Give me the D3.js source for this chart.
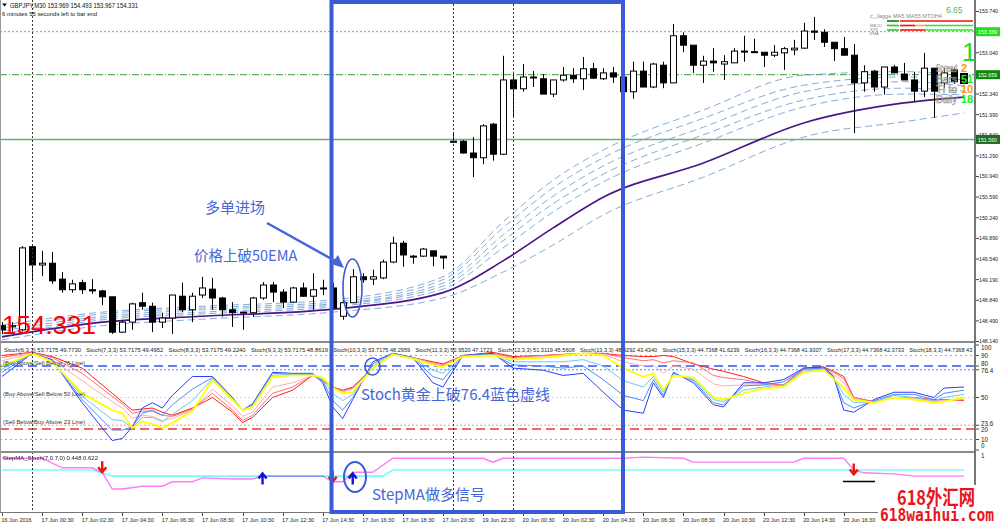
<!DOCTYPE html>
<html><head><meta charset="utf-8">
<script src="https://cdn.jsdelivr.net/npm/d3@7"></script>
<style>body{margin:0;background:#fff;}svg{display:block;font-family:"Liberation Sans",Arial,sans-serif;}</style>
</head><body><svg id="c" width="1000" height="525"></svg>
<script>
// ---------- DATA ----------
const openP  = [148.40,148.38,148.33,149.74,149.43,149.46,149.19,149.01,149.13,149.01,148.99,148.89,148.29,148.46,148.79,148.73,148.46,148.53,148.90,148.67,148.92,149.02,148.87,148.67,148.62,148.62,148.87,149.09,148.97,148.80,149.04,148.90,149.03,149.04,148.56,148.79,149.23,149.19,149.21,149.48,149.80,149.58,149.58,149.67,149.58,151.53,151.53,151.33,151.25,151.82,151.31,152.57,152.42,152.62,152.59,152.33,152.57,152.65,152.59,152.76,152.59,152.69,152.62,152.37,152.72,152.45,152.82,152.52,153.32,153.16,152.82,152.89,152.84,152.86,153.06,153.05,153.04,152.99,153.03,153.08,153.11,153.40,153.38,153.21,153.10,152.99,152.52,152.72,152.45,152.79,152.67,152.57,152.38,152.77,152.52,152.74,152.57];
const highP  = [148.46,148.46,149.75,149.75,149.67,149.65,149.31,149.18,149.18,149.19,149.01,148.89,148.50,148.79,148.96,148.79,148.62,148.92,149.13,148.96,149.23,149.21,148.89,148.80,148.63,148.89,149.14,149.14,149.02,149.06,149.13,149.29,149.18,149.13,148.87,149.36,149.29,149.35,149.52,149.91,149.84,149.60,149.72,149.67,149.58,151.69,151.55,151.60,151.82,151.84,152.98,152.71,152.84,152.72,152.67,152.57,152.79,152.77,152.96,152.86,152.77,152.79,152.65,152.88,152.88,152.86,152.88,153.52,153.38,153.16,152.98,153.11,152.99,153.11,153.32,153.27,153.04,153.16,153.13,153.25,153.54,153.64,153.43,153.21,153.30,153.18,152.82,152.74,152.79,152.82,152.86,152.71,153.03,152.77,152.77,152.77,152.69];
const lowP   = [148.26,148.30,148.30,149.14,149.24,149.11,148.96,148.96,148.94,148.94,148.75,148.26,148.28,148.33,148.67,148.29,148.36,148.26,148.63,148.46,148.87,148.67,148.55,148.38,148.33,148.55,148.84,148.80,148.70,148.79,148.89,148.67,148.92,148.67,148.50,148.79,149.13,149.09,149.19,149.46,149.40,149.45,149.57,149.41,149.36,151.50,151.32,150.92,151.14,151.20,151.30,151.94,152.37,152.45,152.33,152.28,152.54,152.52,152.40,152.59,152.57,152.52,152.35,152.25,152.45,152.43,152.43,152.52,153.04,152.69,152.52,152.71,152.57,152.86,152.88,153.03,152.79,152.96,152.74,152.99,153.10,153.25,153.13,152.89,152.99,151.67,152.37,152.37,152.32,152.69,152.57,152.20,152.28,151.93,152.43,152.50,152.52];
const closeP = [148.33,148.40,149.72,149.43,149.46,149.16,149.01,149.11,149.01,148.99,148.89,148.29,148.46,148.77,148.73,148.46,148.53,148.92,148.67,148.90,149.04,148.87,148.67,148.62,148.63,148.87,149.09,148.97,148.80,149.04,148.90,149.01,149.04,148.70,148.79,149.23,149.18,149.23,149.48,149.80,149.60,149.57,149.70,149.58,149.55,151.52,151.33,151.25,151.79,151.31,152.57,152.42,152.62,152.61,152.33,152.57,152.65,152.59,152.76,152.60,152.69,152.62,152.37,152.72,152.45,152.84,152.52,153.32,153.16,152.82,152.89,152.86,152.88,153.06,153.05,153.04,152.99,153.04,153.10,153.11,153.40,153.38,153.21,153.10,152.99,152.52,152.71,152.45,152.79,152.69,152.57,152.38,152.77,152.38,152.69,152.54,152.66];

const maIdx = [0,10,20,33,44,50,55,60,70,80,90,96];
const ema50 = [148.21,148.46,148.56,148.68,148.96,149.50,150.06,150.58,151.16,151.84,152.18,152.28];
const ma1 = [148.41,148.63,148.73,148.84,149.23,150.16,150.87,151.38,152.06,152.65,152.71,152.65];
const ma2 = [148.36,148.60,148.70,148.80,149.18,150.06,150.74,151.25,151.92,152.48,152.62,152.57];
const ma3 = [148.31,148.56,148.67,148.77,149.12,149.94,150.60,151.11,151.77,152.37,152.54,152.47];
const ma4 = [148.26,148.53,148.63,148.75,149.07,149.84,150.47,150.97,151.64,152.23,152.43,152.38];
const ma5 = [148.22,148.50,148.60,148.72,149.02,149.72,150.33,150.84,151.50,152.11,152.33,152.32];
const ma6 = [148.16,148.40,148.51,148.63,148.87,149.31,149.77,150.28,150.92,151.60,151.86,152.01];

const priceTicks = [148.14,148.49,148.84,149.19,149.54,149.89,150.24,150.59,150.94,151.29,151.64,151.99,152.34,153.04,153.74];
const priceLevels = [153.389,152.659,151.560];
const separatorBars = [3,45,51];

const stochIdx = [0,3,5,8,11,12,13,14,15,16,17,19,21,23,24,25,27,29,31,32,33,34,35,37,39,41,43,44,46,49,51,54,56,58,60,62,64,65,66,67,69,71,72,74,76,78,80,82,83,84,85,87,89,91,93,94,96];
const stoch6  = [70,92,86,45,9,11,22,40,45,40,52,70,70,50,38,44,74,73,73,64,41,30,48,84,92,88,64,60,90,92,78,76,71,73,55,38,35,64,50,74,64,43,41,64,64,67,78,79,70,38,36,48,55,55,50,59,60];
const stoch8  = [74,92,85,48,19,19,22,35,38,33,43,58,69,49,38,43,73,72,72,66,47,38,50,82,92,88,70,67,90,91,81,80,78,80,67,52,47,67,52,73,66,45,43,61,62,65,77,78,69,45,40,47,53,53,48,54,57];
const stoch10 = [77,92,85,51,29,28,21,31,31,27,34,47,68,49,38,42,71,72,72,67,54,47,53,80,91,87,76,73,89,91,84,84,84,86,80,66,60,70,55,72,67,48,46,57,60,62,75,77,69,53,45,46,52,50,47,50,53];
const stoch12 = [80,92,84,54,38,35,21,27,25,21,26,37,67,48,38,41,70,71,71,69,59,54,55,78,91,87,81,79,89,90,86,88,90,92,90,78,70,73,57,71,69,50,48,54,59,60,74,76,68,59,48,45,50,48,45,46,50];
const stoch15 = [85,92,86,66,46,40,30,33,32,28,30,38,58,42,32,36,60,64,71,67,60,55,58,78,92,88,82,80,90,91,87,89,90,92,91,84,80,81,73,80,77,63,61,62,62,61,76,78,72,64,49,45,50,49,46,47,48];
const stoch16 = [88,93,88,73,51,44,35,37,37,33,32,39,54,38,28,33,54,60,71,67,60,56,59,78,92,88,83,81,90,92,88,90,91,92,92,88,85,86,83,85,83,71,69,67,63,62,77,78,74,68,50,46,50,50,47,48,48];
const stoch18 = [90,93,89,78,54,46,38,39,40,36,33,40,50,36,26,31,50,57,71,66,60,57,60,78,92,88,84,82,90,93,89,90,91,92,92,90,89,89,90,89,82,77,75,70,64,62,78,79,75,70,50,46,50,50,48,48,47];
const stochLevels = [90,80,76.4,50,23.6,20,10];
const stochLabels = ["Stoch(6,3,3) 53.7175 49.7730","Stoch(7,3,3) 53.7175 49.4952","Stoch(8,3,3) 53.7175 49.2240","Stoch(9,3,3) 53.7175 48.8619","Stoch(10,3,3) 53.7175 48.2959","Stoch(11,3,3) 52.9520 47.1723","Stoch(12,3,3) 51.3119 45.5608","Stoch(13,3,3) 48.9292 43.4340","Stoch(15,3,3) 44.7368 41.6239","Stoch(16,3,3) 44.7368 41.9307","Stoch(17,3,3) 44.7368 42.3733","Stoch(18,3,3) 44.7368 43"];
const stochAxis = [100,90,80,76.4,50,23.6,20,10,0];

const stepPinkIdx = [0,4,6,9,10,11,12,14,16,17,19,20,23,25,26,32,33,34,35,37,39,48,49,50,62,64,68,69,79,80,84,85,86,89,91,96];
const stepPink    = [.96,.96,.79,.79,.71,.41,.41,.46,.46,.54,.54,.61,.59,.59,.64,.64,.54,.54,.71,.71,.96,.96,.89,.96,.96,.98,.96,.89,.89,.96,.96,.75,.70,.68,.64,.64];
const stepCyanIdx = [0,9,11,38,39,96];
const stepCyan    = [.75,.75,.64,.64,.75,.75];
const downArrowIdx = [10,33,85];
const downArrowVal = [.80,.63,.76];
const upArrowIdx = [26,35];
const upArrowVal = [.60,.60];

const tickBars = [0,4,8,12,16,20,24,28,32,36,40,44,48,52,56,60,64,68,72,76,80,84];
const tickLabels = ["16 Jun 2016","17 Jun 00:30","17 Jun 02:30","17 Jun 04:30","17 Jun 06:30","17 Jun 08:30","17 Jun 10:30","17 Jun 12:30","17 Jun 14:30","17 Jun 16:30","17 Jun 18:30","17 Jun 20:30","19 Jun 22:30","20 Jun 00:30","20 Jun 02:30","20 Jun 04:30","20 Jun 06:30","20 Jun 08:30","20 Jun 10:30","20 Jun 12:30","20 Jun 14:30","20 Jun 16:30"];

// ---------- SCALES ----------
const svg = d3.select("#c");
const x  = d3.scaleLinear().domain([0,96]).range([2,964]);
const yP = d3.scaleLinear().domain([148.14,153.74]).range([341,11]);
const yS = d3.scaleLinear().domain([0,100]).range([450,345]);
const yM = d3.scaleLinear().domain([0,1]).range([512,456]);
const AX = 975;
const blue = "#3b5bd6", annot = "#4766d8";

svg.append("rect").attr("width",1000).attr("height",525).attr("fill","#fff");
const defs = svg.append("defs");
defs.append("clipPath").attr("id","cm").append("rect").attr("x",0).attr("y",0).attr("width",AX).attr("height",341);
defs.append("clipPath").attr("id","cs").append("rect").attr("x",0).attr("y",343).attr("width",AX).attr("height",108);
defs.append("clipPath").attr("id","cp").append("rect").attr("x",0).attr("y",453).attr("width",AX).attr("height",59);

// ---------- MAIN PANEL ----------
const gm = svg.append("g").attr("clip-path","url(#cm)");
const lvlStyle = [{c:"#33dd33",d:"2,2",w:1},{c:"#3a9a3a",d:"7,2,1,2",w:1},{c:"#74ad74",d:null,w:1.6}];
priceLevels.forEach((p,k)=>{
  gm.append("line").attr("x1",0).attr("x2",AX).attr("y1",yP(p)).attr("y2",yP(p))
    .attr("stroke",lvlStyle[k].c).attr("stroke-width",lvlStyle[k].w).attr("stroke-dasharray",lvlStyle[k].d);
});
const lineP = d3.line().x((d,i)=>x(maIdx[i])).y(d=>yP(d)).curve(d3.curveMonotoneX);
[ma1,ma2,ma3,ma4,ma5,ma6].forEach(arr=>{
  gm.append("path").attr("d",lineP(arr)).attr("fill","none").attr("stroke","#86acd8").attr("stroke-width",1).attr("stroke-dasharray","7,4");
});
gm.append("path").attr("d",lineP(ema50)).attr("fill","none").attr("stroke","#4a168a").attr("stroke-width",1.7);
const idx = d3.range(openP.length);
gm.selectAll(".wick").data(idx).join("line")
  .attr("x1",i=>Math.round(x(i))+0.5).attr("x2",i=>Math.round(x(i))+0.5)
  .attr("y1",i=>yP(highP[i])).attr("y2",i=>yP(lowP[i])).attr("stroke","#000").attr("stroke-width",1);
gm.selectAll(".body").data(idx).join("rect")
  .attr("x",i=>Math.round(x(i))-2.5).attr("width",6)
  .attr("y",i=>yP(Math.max(openP[i],closeP[i])))
  .attr("height",i=>Math.max(1,Math.abs(yP(openP[i])-yP(closeP[i]))))
  .attr("fill",i=>closeP[i]>=openP[i]?"#fff":"#000").attr("stroke","#000").attr("stroke-width",1);

// ---------- STOCH PANEL ----------
const gs = svg.append("g").attr("clip-path","url(#cs)");
const lvlS = {90:["#aaaaaa","2,3",1],80:["#3355ee","9,5",1.3],76.4:["#3399ff","2,2",1],50:["#eeee33","2,2",1.2],23.6:["#ff9977","2,2",1],20:["#ee3333","9,5",1.3],10:["#aaaaaa","2,3",1]};
stochLevels.forEach(v=>{
  const s = lvlS[v];
  gs.append("line").attr("x1",0).attr("x2",AX).attr("y1",yS(v)).attr("y2",yS(v))
    .attr("stroke",s[0]).attr("stroke-dasharray",s[1]).attr("stroke-width",s[2]);
});
const lineS = d3.line().x((d,i)=>x(stochIdx[i])).y(d=>yS(d));
const stochSeries = [[stoch18,"#ff1f1f",1],[stoch16,"#ff7070",1],[stoch15,"#ffb0b0",1],[stoch6,"#2f3cff",1],[stoch8,"#4a8dff",1],[stoch10,"#6cc8f4",1],[stoch12,"#ffff00",1.8]];
stochSeries.forEach(s=>{
  gs.append("path").attr("d",lineS(s[0])).attr("fill","none").attr("stroke",s[1]).attr("stroke-width",s[2]);
});
gs.selectAll(".sl").data(stochLabels).join("text")
  .attr("x",(d,k)=>4+k*82.3).attr("y",352).attr("font-size",6).attr("fill","#222")
  .attr("textLength",(d,k)=>k===11?63:77).attr("lengthAdjust","spacingAndGlyphs").text(d=>d);
[["(Buy Above/Sell Below 76 Line)",365],["(Buy Above/Sell Below 50 Line)",396],["(Sell Below/Buy Above 23 Line)",424]].forEach(t=>{
  gs.append("text").attr("x",3).attr("y",t[1]).attr("font-size",5.8).attr("fill","#333")
    .attr("textLength",82).attr("lengthAdjust","spacingAndGlyphs").text(t[0]);
});

// ---------- STEPMA PANEL ----------
const gp = svg.append("g").attr("clip-path","url(#cp)");
gp.append("path").attr("d",d3.line().x((d,i)=>x(stepCyanIdx[i])).y(d=>yM(d))(stepCyan))
  .attr("fill","none").attr("stroke","#7ff8f8").attr("stroke-width",1.6);
gp.append("path").attr("d",d3.line().x((d,i)=>x(stepPinkIdx[i])).y(d=>yM(d))(stepPink))
  .attr("fill","none").attr("stroke","#ff7cf4").attr("stroke-width",1.4).style("mix-blend-mode","multiply");
gp.append("text").attr("x",3).attr("y",460).attr("font-size",6).attr("fill","#222")
  .attr("textLength",95).attr("lengthAdjust","spacingAndGlyphs").text("StepMA_Stoch(7,0.7,0) 0.448 0.622");
downArrowIdx.forEach((b,k)=>{
  gp.append("path").attr("transform",`translate(${x(b)},${yM(downArrowVal[k])})`)
    .attr("d","M0,-6L0,4M-4,0L0,5L4,0").attr("fill","none").attr("stroke","#ee1111").attr("stroke-width",2.4);
});
upArrowIdx.forEach((b,k)=>{
  gp.append("path").attr("transform",`translate(${x(b)},${yM(upArrowVal[k])})`)
    .attr("d","M0,6L0,-4M-4,0L0,-5L4,0").attr("fill","none").attr("stroke","#1111dd").attr("stroke-width",2.4);
});
gp.append("line").attr("x1",843).attr("x2",875).attr("y1",481.5).attr("y2",481.5).attr("stroke","#000").attr("stroke-width",1.5);

// ---------- SEPARATORS / FRAME ----------
separatorBars.forEach(b=>{
  svg.append("line").attr("x1",Math.round(x(b))+0.5).attr("x2",Math.round(x(b))+0.5).attr("y1",0).attr("y2",512)
    .attr("stroke","#333").attr("stroke-dasharray","2,2").attr("stroke-width",1);
});
svg.append("rect").attr("x",0).attr("y",341).attr("width",AX).attr("height",2).attr("fill","#8a8a8a");
svg.append("rect").attr("x",0).attr("y",451).attr("width",AX).attr("height",2).attr("fill","#8a8a8a");
svg.append("line").attr("x1",0).attr("x2",AX).attr("y1",512.5).attr("y2",512.5).attr("stroke","#777");
svg.append("line").attr("x1",0.5).attr("x2",0.5).attr("y1",0).attr("y2",512).attr("stroke","#999");
svg.append("rect").attr("x",AX-1).attr("y",0).attr("width",2).attr("height",513).attr("fill","#777");

// ---------- AXES ----------
const axP = svg.append("g").attr("transform",`translate(${AX+1},0)`)
  .call(d3.axisRight(yP).tickValues(priceTicks).tickFormat(d3.format(".3f")).tickSize(3).tickPadding(0));
axP.select(".domain").remove();
axP.selectAll("text").attr("font-size",6.2).attr("fill","#222").attr("font-family","Liberation Sans, Arial")
  .attr("x",3).attr("textLength",19).attr("lengthAdjust","spacingAndGlyphs");
axP.selectAll("line").attr("stroke","#444");
const boxStyle = [["#20e020","#fff"],["#0a8a0a","#fff"],["#226b22","#fff"]];
priceLevels.forEach((p,k)=>{
  svg.append("rect").attr("x",AX+1).attr("y",yP(p)-4.5).attr("width",24).attr("height",9).attr("fill",boxStyle[k][0]);
  svg.append("text").attr("x",AX+3).attr("y",yP(p)+2.3).attr("font-size",6.2).attr("fill",boxStyle[k][1])
    .attr("textLength",19).attr("lengthAdjust","spacingAndGlyphs").text(d3.format(".3f")(p));
});
const sPos = v=> v===100?348 : v===0?446 : v===80?364 : v===76.4?371 : v===23.6?424 : v===20?430 : yS(v);
stochAxis.forEach(v=>{
  svg.append("line").attr("x1",AX+1).attr("x2",AX+4).attr("y1",yS(v)).attr("y2",yS(v)).attr("stroke","#444");
  svg.append("text").attr("x",AX+6).attr("y",sPos(v)+2.3).attr("font-size",6.3).attr("fill","#222").text(v);
});
svg.append("text").attr("x",AX+6).attr("y",yM(1)+2.3).attr("font-size",6.3).attr("fill","#222").text("1");
tickBars.forEach((b,k)=>{
  svg.append("line").attr("x1",Math.round(x(b))+0.5).attr("x2",Math.round(x(b))+0.5).attr("y1",513).attr("y2",516).attr("stroke","#444");
  svg.append("text").attr("x",x(b)-0.5).attr("y",521.5).attr("font-size",6.2).attr("fill","#222")
    .attr("textLength",k===0?30:32).attr("lengthAdjust","spacingAndGlyphs").text(tickLabels[k]);
});

// ---------- HEADER / INFO TEXT ----------
svg.append("path").attr("d","M2,3.5L7,3.5L4.5,6.5Z").attr("fill","#000");
svg.append("text").attr("x",10).attr("y",7.5).attr("font-size",6.4).attr("fill","#111")
  .attr("textLength",128).attr("lengthAdjust","spacingAndGlyphs").text("GBPJPY,M30  153.969 154.493 153.967 154.331");
svg.append("text").attr("x",2).attr("y",15.5).attr("font-size",6.2).attr("fill","#111")
  .attr("textLength",95).attr("lengthAdjust","spacingAndGlyphs").text("6 minutes 55 seconds left to bar end");
svg.append("text").attr("x",2).attr("y",334).attr("font-size",26).attr("fill","#ff0000").text("154.331");

const miniRows = [[21,[["#117711",887,899],["#ee1111",900,973]]],[25.5,[["#22cc22",887,899],["#ee1111",900,915],["#ffaa22",915,925],["#22ee22",925,973]]],[30,[["#22cc22",887,899],["#ee1111",900,925],["#22ee22",925,973]]]];
miniRows.forEach(r=>r[1].forEach(s=>{
  svg.append("line").attr("x1",s[1]).attr("x2",s[2]).attr("y1",r[0]).attr("y2",r[0]).attr("stroke",s[0]).attr("stroke-width",1.6);
}));
svg.append("text").attr("x",870).attr("y",18).attr("font-size",4.5).attr("fill","#888").attr("textLength",72).attr("lengthAdjust","spacingAndGlyphs").text("c_Jagge   MA5    MA55 MTOH4");
[["MACD",26.5],["STR",31],["EMA",35]].forEach(t=>svg.append("text").attr("x",870).attr("y",t[1]).attr("font-size",4).attr("fill","#888").text(t[0]));
svg.append("text").attr("x",946).attr("y",13).attr("font-size",8.5).attr("fill","#55bb55").text("6.65");
svg.append("text").attr("x",962).attr("y",61).attr("font-size",26).attr("fill","#22dd22").text("1");
[["Spread",72,"2","#ff9900",null],["Bars",83,"51","#22ee22","#000"],["TI to",93,"10","#ff9900",null],["Daily",103,"18","#22ee22",null]].forEach(t=>{
  svg.append("text").attr("x",936).attr("y",t[1]).attr("font-size",10).attr("fill","none").attr("stroke","#999").attr("stroke-width",0.6)
    .attr("textLength",21).attr("lengthAdjust","spacingAndGlyphs").text(t[0]);
  if(t[4]) svg.append("rect").attr("x",960).attr("y",t[1]-10).attr("width",8).attr("height",11).attr("fill",t[4]);
  svg.append("text").attr("x",961).attr("y",t[1]).attr("font-size",11).attr("font-weight","bold").attr("fill",t[3]).text(t[2]);
});

// ---------- ANNOTATIONS ----------
const cjk = '"Noto Sans CJK SC","Noto Sans",sans-serif';
svg.append("rect").attr("x",331.5).attr("y",2).attr("width",291.5).attr("height",510).attr("fill","none").attr("stroke",blue).attr("stroke-width",4);
svg.append("text").attr("x",205).attr("y",213).attr("font-size",15).attr("font-family",cjk).attr("fill",annot).text("多单进场");
svg.append("text").attr("x",194).attr("y",261).attr("font-size",14.5).attr("font-family",cjk).attr("fill",annot).text("价格上破50EMA");
svg.append("line").attr("x1",267).attr("y1",223).attr("x2",337).attr("y2",262).attr("stroke",annot).attr("stroke-width",2.5);
svg.append("path").attr("d","M344,268L331,264L338,255Z").attr("fill",annot);
svg.append("ellipse").attr("cx",352.5).attr("cy",288).attr("rx",9.5).attr("ry",29).attr("fill","none").attr("stroke",blue).attr("stroke-width",1.6);
svg.append("ellipse").attr("cx",372.5).attr("cy",366.5).attr("rx",7.5).attr("ry",8.5).attr("fill","none").attr("stroke",blue).attr("stroke-width",1.6);
svg.append("text").attr("x",361).attr("y",400).attr("font-size",15).attr("font-family",cjk).attr("fill",annot).text("Stoch黄金上破76.4蓝色虚线");
svg.append("ellipse").attr("cx",355).attr("cy",477).attr("rx",11).attr("ry",15).attr("fill","none").attr("stroke",blue).attr("stroke-width",2);
svg.append("text").attr("x",372).attr("y",500).attr("font-size",15).attr("font-family",cjk).attr("fill",annot).text("StepMA做多信号");

// ---------- WATERMARK ----------
svg.append("rect").attr("x",878).attr("y",485).attr("width",118).attr("height",40).attr("fill","#fff");
svg.append("text").attr("x",897).attr("y",505).attr("font-size",20).attr("font-weight","bold").attr("font-family",cjk).attr("fill","#e8141c")
  .attr("textLength",78).attr("lengthAdjust","spacingAndGlyphs").text("618外汇网");
svg.append("text").attr("x",880).attr("y",521).attr("font-size",17).attr("font-weight","bold").attr("font-family","DejaVu Sans Mono, monospace").attr("fill","#e8141c")
  .attr("textLength",114).attr("lengthAdjust","spacingAndGlyphs").text("618waihui.com");
</script></body></html>
